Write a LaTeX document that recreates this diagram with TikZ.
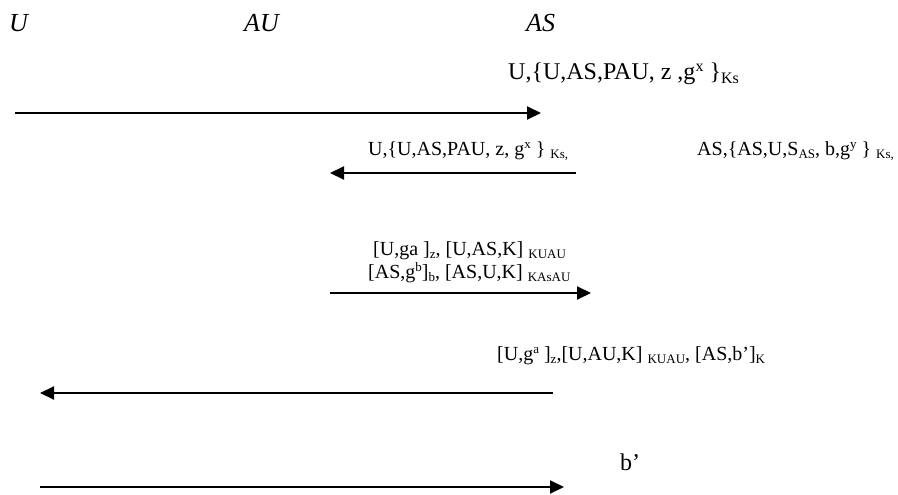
\documentclass[tikz,border=0pt]{standalone}
\usepackage{fontspec}
\setmainfont{Liberation Serif}
\usetikzlibrary{arrows.meta}
\newcommand\lsub[2][13]{\raisebox{-0.35ex}{\fontsize{#1}{#1}\selectfont #2}}
\newcommand\lsup[2][13]{\raisebox{0.75ex}{\fontsize{#1}{#1}\selectfont #2}}
\begin{document}
\begin{tikzpicture}[x=1pt,y=-1pt,
  lbl/.style={anchor=base west,inner sep=0pt,font=\fontsize{20}{22}\selectfont},
  biglbl/.style={anchor=base west,inner sep=0pt,font=\fontsize{24}{26}\selectfont},
  hdr/.style={anchor=base west,inner sep=0pt,font=\fontsize{26}{28}\selectfont\itshape},
  msg/.style={line width=2pt,-{Triangle[length=14pt,width=13pt]}}]
\useasboundingbox (0,0) rectangle (898,495);
% headers
\node[hdr] (hU) at (9,32) {U};
\node[hdr] (hAU) at (244,32) {AU};
\node[hdr] (hAS) at (526,32) {AS};
% message 1
\node[biglbl] (m1) at (508,80) {U,\{U,AS,PAU, z ,g\lsup[16]{x} \}\lsub[16]{Ks}};
\coordinate (a1s) at (15,113);
\coordinate (a1e) at (541,113);
\draw[msg] (a1s) -- (a1e);
% message 2
\node[lbl] (m2) at (368,155) {U,\{U,AS,PAU, z, g\lsup{x} \} \lsub{Ks,}};
\node[lbl] (m2b) at (697,155) {AS,\{AS,U,S\lsub{AS}, b,g\lsup{y} \} \lsub{Ks,}};
\coordinate (a2s) at (576,173);
\coordinate (a2e) at (330,173);
\draw[msg] (a2s) -- (a2e);
% message 3
\node[lbl] (m3a) at (373,255) {[U,ga ]\lsub{z}, [U,AS,K] \lsub{KUAU}};
\node[lbl] (m3b) at (368,278) {[AS,g\lsup{b}]\lsub{b}, [AS,U,K] \lsub{KAsAU}};
\coordinate (a3s) at (330,293);
\coordinate (a3e) at (591,293);
\draw[msg] (a3s) -- (a3e);
% message 4
\node[lbl] (m4) at (497,360) {[U,g\lsup{a} ]\lsub{z},[U,AU,K] \lsub{KUAU}, [AS,b’]\lsub{K}};
\coordinate (a4s) at (553,393);
\coordinate (a4e) at (40,393);
\draw[msg] (a4s) -- (a4e);
% message 5
\node[biglbl] (m5) at (620,470) {b’};
\coordinate (a5s) at (40,487);
\coordinate (a5e) at (564,487);
\draw[msg] (a5s) -- (a5e);
\end{tikzpicture}
\end{document}
